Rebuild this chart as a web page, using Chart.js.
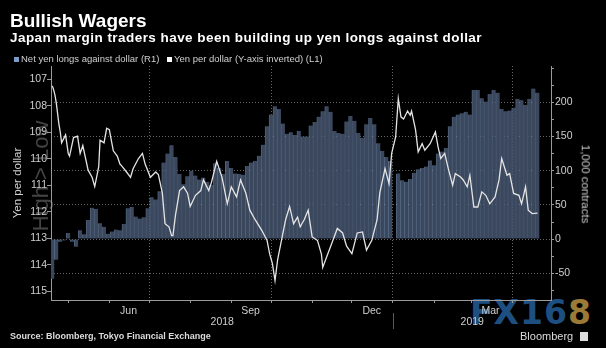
<!DOCTYPE html>
<html><head><meta charset="utf-8">
<script src="https://cdn.jsdelivr.net/npm/chart.js@4.4.1/dist/chart.umd.min.js"></script>
<style>
html,body{margin:0;padding:0;background:#000;}
#wrap{position:relative;width:606px;height:348px;overflow:hidden;background:#000;font-family:"Liberation Sans",Arial,sans-serif;}
#c{position:absolute;left:0;top:0;z-index:2;}
.t{position:absolute;white-space:nowrap;line-height:1;}
#title{left:10px;top:11px;font-size:19px;font-weight:bold;color:#fff;z-index:3;}
#sub{left:10px;top:31px;font-size:13.5px;font-weight:bold;color:#fff;letter-spacing:0.45px;z-index:3;}
.leg{top:54px;font-size:9.5px;color:#cfcfcf;z-index:3;}
.sw{position:absolute;width:5px;height:5px;top:57px;z-index:3;}
#src{left:10px;top:332px;font-size:9px;font-weight:bold;color:#dcdcdc;z-index:3;}
#bbg{left:520px;top:331px;font-size:11px;color:#dcdcdc;z-index:3;}
#bbgIcon{position:absolute;left:580px;top:332px;width:8px;height:9px;background:#dcdcdc;z-index:3;}
#fx{left:470px;top:296px;font-family:"DejaVu Sans",sans-serif;font-size:33px;font-weight:bold;letter-spacing:1px;z-index:1;}
#ytitle{left:18px;top:183px;font-size:11.5px;color:#cfcfcf;transform:translate(-50%,-50%) rotate(-90deg);z-index:3;}
#rtitle{left:585px;top:184px;font-size:11.5px;color:#cfcfcf;transform:translate(-50%,-50%) rotate(90deg);z-index:3;}
#hl{left:41px;top:176px;font-size:22px;color:rgba(150,150,150,0.45);transform:translate(-50%,-50%) rotate(-90deg);z-index:4;}
</style></head>
<body>
<div id="wrap">
  <div id="fx" class="t"><span style="color:#1d4f80">FX16</span><span style="color:#9a7a36">8</span></div>
  <canvas id="c" width="606" height="348"></canvas>
  <div id="title" class="t">Bullish Wagers</div>
  <div id="sub" class="t">Japan margin traders have been building up yen longs against dollar</div>
  <div class="sw" style="left:14px;background:#7b9bc8"></div>
  <div class="t leg" style="left:21px">Net yen longs against dollar (R1)</div>
  <div class="sw" style="left:167px;background:#ffffff"></div>
  <div class="t leg" style="left:174px">Yen per dollar (Y-axis inverted) (L1)</div>
  <div id="ytitle" class="t">Yen per dollar</div>
  <div id="rtitle" class="t">1,000 contracts</div>
  <div id="hl" class="t">High &gt; Low</div>
  <div id="src" class="t">Source: Bloomberg, Tokyo Financial Exchange</div>
  <div id="bbg" class="t">Bloomberg</div>
  <div id="bbgIcon"></div>
</div>
<script>
// ---- Data (days counted from 2018-04-01) ----
const barDays = [18,21,24,27,30,33,36,39,42,45,48,51,54,57,60,63,66,69,72,75,78,81,84,87,90,93,96,99,102,105,108,111,114,117,120,123,126,129,132,135,138,141,144,147,150,153,156,159,162,165,168,171,174,177,180,183,186,189,192,195,198,201,204,207,210,213,216,219,222,225,228,231,234,237,240,243,246,249,252,255,258,261,264,267,270,273,276,279,282,285,288,291,294,297,300,303,306,309,312,315,318,321,324,327,330,333,336,339,342,345,348,351,354,357,360,363,366,369,372,375,378,381,384];
const netYenLongs = [-58,-30,-4,-2,9,-4,-11,13,7,28,46,44,23,18,8,11,14,13,22,45,47,33,30,32,45,61,58,70,112,125,137,120,95,80,92,100,93,87,90,84,79,111,104,95,114,104,96,95,94,107,112,114,122,138,165,182,194,190,169,154,156,152,158,150,150,166,171,179,187,194,186,158,155,154,172,180,173,155,148,168,177,168,140,129,120,114,null,96,86,84,88,97,102,104,106,115,108,125,128,133,165,179,182,184,186,182,218,218,206,201,212,218,214,190,187,188,192,205,203,196,205,220,214];

const lineDays = [18,19,20,21,23,24,25,28,30,31,34,37,39,41,45,48,50,53,54,57,59,61,64,67,69,70,74,77,79,83,86,88,92,96,98,101,103,106,108,109,111,114,117,120,122,126,130,132,136,138,142,146,150,153,157,160,164,167,171,176,180,182,184,186,188,190,194,197,200,203,205,208,211,214,218,221,222,225,228,233,237,240,244,248,252,255,259,263,265,269,272,274,277,279,281,283,286,288,289,292,294,297,299,303,307,309,311,314,317,320,322,326,328,331,333,336,339,342,345,348,352,355,357,361,363,366,370,372,375,377,380,384];
const yenPerDollar = [107.25,107.4,107.6,107.9,108.7,109.0,109.4,109.1,109.8,109.9,109.2,109.15,109.8,109.5,110.43,110.7,111.05,110.3,109.3,109.4,108.85,108.9,109.7,109.9,110.2,110.25,110.5,110.7,110.37,109.99,109.8,110.2,110.7,110.5,110.6,111.3,112.45,112.57,112.9,112.9,112.1,111.2,111.06,111.3,111.8,111.38,111.2,110.8,111.2,110.9,110.1,110.7,111.7,111.06,111.44,110.8,111.3,111.94,112.3,112.7,113.08,113.6,113.95,114.6,113.8,113.3,112.3,111.8,112.45,112.2,112.57,112.3,111.94,112.95,113.08,113.6,114.1,113.7,113.3,112.63,112.8,113.3,113.58,112.8,112.76,113.45,113.08,112.3,111.3,110.37,110.94,109.8,109.18,107.73,108.42,108.5,108.2,108.36,108.2,108.9,109.74,109.43,109.68,109.43,108.99,109.55,109.99,109.8,110.43,111.0,110.56,110.69,110.8,111.06,110.62,111.82,111.82,111.25,111.38,111.7,111.44,110.8,109.99,110.62,110.56,111.31,111.38,111.7,111.06,111.94,112.07,112.05];

const leftTicks = [107,108,109,110,111,112,113,114,115];
const rightTicks = [-75,-50,-25,0,25,50,75,100,125,150,175,200,225,250];
const monthTickDays = [30,61,91,122,153,183,214,244,275,306,334,365];
const quarterDays = [91,183,275,365];
const monthLabels = ['Jun','Sep','Dec','Mar'];
const monthLabelDays = [75.5,167.5,259,348.5];
const yearLabels = ['2018','2019'];
const yearStartDay = 275;

const labelMap = {};
monthLabelDays.forEach((d,i)=>{ labelMap[d] = monthLabels[i]; });

const AX = '#9a9a9a', GRID = '#666666', TXT = '#cfcfcf';
const tickFont = {family:'"Liberation Sans", Arial, sans-serif', size:10.5};

const yearPlugin = {
  id:'years',
  afterDraw(chart){
    const {ctx, chartArea:a} = chart;
    const x = chart.scales.x;
    const sep = Math.round(x.getPixelForValue(yearStartDay)) + 0.5;
    ctx.save();
    ctx.strokeStyle = '#5a5a5a'; ctx.lineWidth = 1;
    ctx.beginPath(); ctx.moveTo(sep, a.bottom + 13); ctx.lineTo(sep, a.bottom + 29); ctx.stroke();
    ctx.fillStyle = TXT; ctx.font = '10.5px "Liberation Sans", Arial, sans-serif';
    ctx.textAlign = 'center'; ctx.textBaseline = 'middle';
    ctx.fillText(yearLabels[0], (a.left + sep) / 2, a.bottom + 22.5);
    ctx.fillText(yearLabels[1], (sep + a.right) / 2, a.bottom + 22.5);
    ctx.restore();
  }
};

new Chart(document.getElementById('c'), {
  type:'bar',
  data:{ datasets:[
    { type:'line', label:'Yen per dollar (Y-axis inverted) (L1)',
      data: lineDays.map((d,i)=>({x:d, y:yenPerDollar[i]})),
      yAxisID:'yL', borderColor:'#e4e4e4', borderWidth:1.3, pointRadius:0, tension:0, order:0 },
    { type:'bar', label:'Net yen longs against dollar (R1)',
      data: barDays.map((d,i)=>({x:d, y:netYenLongs[i]})),
      yAxisID:'yR', backgroundColor:'#3a475c', borderColor:'rgba(143,176,220,0.55)',
      borderWidth:{left:1,right:0,top:0,bottom:0}, borderSkipped:false,
      barPercentage:1, categoryPercentage:1, order:1 }
  ]},
  options:{
    responsive:false, animation:false, devicePixelRatio:1,
    layout:{padding:{top:66,left:0,right:0,bottom:0}},
    plugins:{legend:{display:false}, tooltip:{enabled:false}, title:{display:false}},
    scales:{
      x:{ type:'linear', min:17, max:394.2, offset:false,
        afterBuildTicks: s => { s.ticks = monthTickDays.concat(monthLabelDays).sort((a,b)=>a-b).map(v=>({value:v})); },
        afterFit: s => { s.height = 48; },
        grid:{ offset:false, drawOnChartArea:true, tickLength:3,
          color: c => (c.tick && quarterDays.includes(c.tick.value)) ? GRID : 'transparent',
          tickColor: c => (c.tick && monthTickDays.includes(c.tick.value)) ? AX : 'transparent' },
        border:{ color:AX, dash:[1,2] },
        ticks:{ autoSkip:false, maxRotation:0, minRotation:0, padding:2, color:TXT, font:tickFont,
          callback: v => labelMap[v] || '' }
      },
      yL:{ type:'linear', position:'left', reverse:true, min:106.5, max:115.33,
        afterBuildTicks: s => { s.ticks = leftTicks.map(v=>({value:v})); },
        afterFit: s => { s.width = 51; },
        grid:{ drawOnChartArea:false, tickLength:4, tickColor:AX, color:AX },
        border:{ color:AX },
        ticks:{ padding:0, color:TXT, font:tickFont, callback: v => String(v) }
      },
      yR:{ type:'linear', position:'right', min:-89, max:253,
        afterBuildTicks: s => { s.ticks = rightTicks.map(v=>({value:v})); },
        afterFit: s => { s.width = 55; },
        grid:{ drawOnChartArea:true, tickLength:3, tickColor:AX,
          color: c => (c.tick && c.tick.value % 50 === 0 && c.tick.value < 250) ? GRID : 'transparent' },
        border:{ color:AX, dash:[1,2] },
        ticks:{ padding:1, color:TXT, font:tickFont,
          callback: v => (v % 50 === 0 && v <= 200) ? String(v) : '' }
      }
    }
  },
  plugins:[yearPlugin]
});
</script>
</body></html>
